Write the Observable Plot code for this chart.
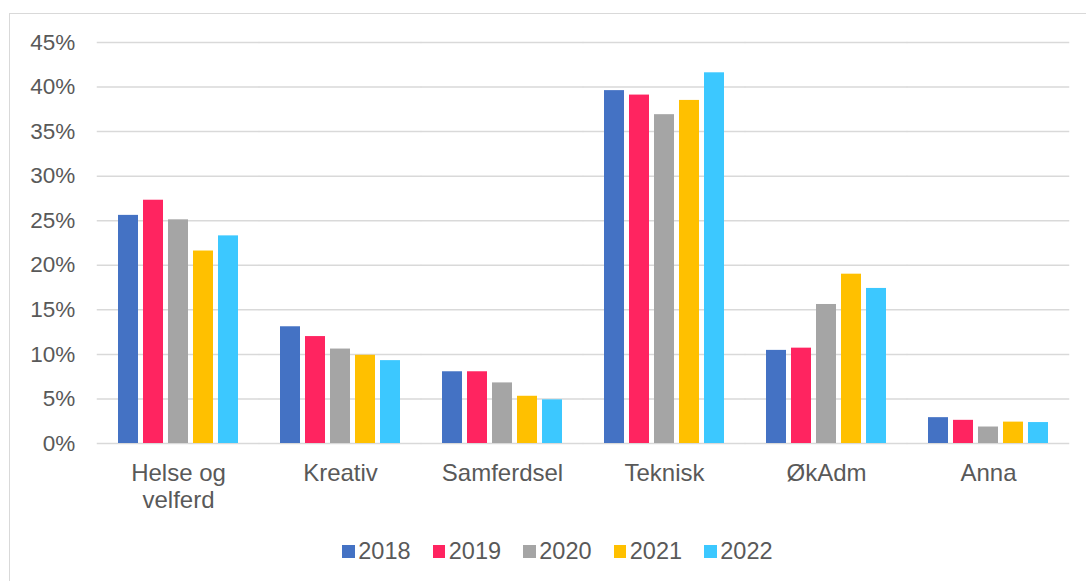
<!DOCTYPE html>
<html>
<head>
<meta charset="utf-8">
<script src="https://cdn.jsdelivr.net/npm/d3@7"></script>
<script src="https://cdn.jsdelivr.net/npm/@observablehq/plot@0.6"></script>
<style>
  body { margin: 0; background: #fff; }
  #wrap { position: relative; width: 1086px; height: 581px; overflow: hidden; font-family: "Liberation Sans", Arial, sans-serif; }
  #frame { position: absolute; left: 9px; top: 13px; width: 1200px; height: 700px; border: 1px solid #d9d9d9; box-sizing: border-box; }
  #chart { position: absolute; left: 0; top: 0; }
  #legend { position: absolute; left: 342px; top: 540px; display: flex; }
  .item { display: flex; align-items: center; width: 90.5px; height: 23px; }
  .sw { width: 12.7px; height: 12.7px; margin-right: 3.6px; flex: none; }
  .lb { font-size: 23.5px; line-height: 1; color: #595959; }
</style>
</head>
<body>
<div id="wrap">
  <div id="frame"></div>
  <div id="chart"></div>
  <div id="legend"></div>
</div>
<script>
const categories = ["Helse og\nvelferd", "Kreativ", "Samferdsel", "Teknisk", "ØkAdm", "Anna"];
const years = ["2018", "2019", "2020", "2021", "2022"];
const v2018 = [25.6, 13.1, 8.05, 39.6, 10.45, 2.9];
const v2019 = [27.3, 12.0, 8.05, 39.1, 10.7, 2.6];
const v2020 = [25.1, 10.6, 6.8, 36.9, 15.6, 1.85];
const v2021 = [21.6, 9.9, 5.3, 38.5, 19.0, 2.4];
const v2022 = [23.3, 9.3, 4.9, 41.6, 17.4, 2.35];
const colors = ["#4472C4", "#FF2460", "#A5A5A5", "#FFC000", "#3CC8FF"];
const yTicks = [0, 5, 10, 15, 20, 25, 30, 35, 40, 45];

const series = [v2018, v2019, v2020, v2021, v2022];
const data = [];
categories.forEach((c, ci) => {
  years.forEach((y, yi) => {
    data.push({category: c, year: y, value: series[yi][ci]});
  });
});

// half of the gap between groups, so the per-facet grid segments join up
const fxPadInner = 0.262, fxPadOuter = 0.131;
const plotW = 1086 - 96 - 17;
const step = plotW / categories.length;
const halfGap = step * fxPadInner / 2;

const chart = Plot.plot({
  width: 1086,
  height: 520,
  marginLeft: 96,
  marginRight: 17,
  marginTop: 42,
  marginBottom: 77,
  style: {fontFamily: "'Liberation Sans', Arial, sans-serif", color: "#595959", background: "transparent", overflow: "visible"},
  fx: {domain: categories, paddingInner: fxPadInner, paddingOuter: fxPadOuter, label: null},
  x: {domain: years, paddingInner: 0.2, paddingOuter: 0, axis: null},
  y: {domain: [0, 45], label: null},
  color: {domain: years, range: colors},
  marks: [
    Plot.ruleY(yTicks, {stroke: "#d9d9d9", strokeWidth: 1.5, insetLeft: -halfGap, insetRight: -halfGap}),
    Plot.barY(data, {fx: "category", x: "year", y: "value", fill: "year"}),
    Plot.axisY({ticks: yTicks, tickFormat: d => d + "%", tickSize: 0, tickPadding: 22 + halfGap, fontSize: 22.5, label: null, fill: "#595959"}),
    Plot.axisFx({anchor: "bottom", tickSize: 0, tickPadding: 19, fontSize: 24, lineHeight: 1.1, label: null, fill: "#595959"})
  ]
});
document.getElementById("chart").appendChild(chart);

const legend = document.getElementById("legend");
years.forEach((y, i) => {
  const it = document.createElement("div");
  it.className = "item";
  const sw = document.createElement("span");
  sw.className = "sw";
  sw.style.background = colors[i];
  const lb = document.createElement("span");
  lb.className = "lb";
  lb.textContent = y;
  it.appendChild(sw);
  it.appendChild(lb);
  legend.appendChild(it);
});
</script>
</body>
</html>
